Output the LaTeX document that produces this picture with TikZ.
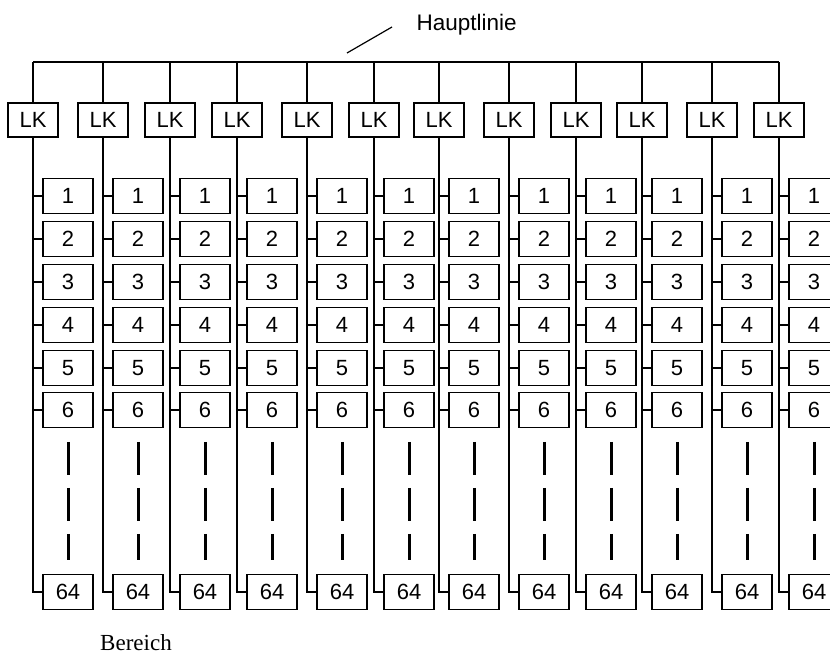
\documentclass[tikz,border=0pt]{standalone}
\usepackage{fontspec}
\setmainfont{Liberation Sans}
\newfontfamily\bereichfont{Liberation Serif}
\begin{document}
\begin{tikzpicture}[x=1pt, y=-1pt,
    lkbox/.style={draw, line width=1.5pt, minimum width=50pt, minimum height=34pt, inner sep=0pt, font=\fontsize{22}{24}\selectfont},
    numbox/.style={draw, line width=1.5pt, minimum width=50pt, minimum height=35pt, inner sep=0pt, font=\fontsize{22}{24}\selectfont},
    wire/.style={line width=1.2pt},
    gapline/.style={line width=3pt, dash pattern=on 33pt off 13pt}
]
\useasboundingbox (0,0) rectangle (830,655);
\clip (0,0) rectangle (830,655);

% Hauptlinie
\coordinate (hl-west) at (33,62);
\coordinate (hl-east) at (779,62);
\draw[wire] (hl-west) -- (hl-east);
\node[anchor=west, font=\fontsize{22.5}{24}\selectfont] (hauptlinie) at (413,25) {Hauptlinie};
\coordinate (lead-a) at (392,27);
\coordinate (lead-b) at (347,53);
\draw[wire] (lead-a) -- (lead-b);

% Linienkoppler mit Teilnehmern
\foreach \x [count=\i] in {33,103,170,237,307,374,439,509,576,642,712,779} {
    \node[lkbox] (lk\i) at (\x,120) {LK};
    \coordinate (top\i) at (\x,62);
    \draw[wire] (top\i) -- (lk\i);
    \foreach \n/\y in {1/196,2/239,3/282,4/325,5/368,6/410,64/592} {
        \node[numbox] (b\i-\n) at (\x+35,\y) {\n};
        \draw[wire] (lk\i.south) |- (b\i-\n.west);
    }
    \draw[gapline] ([yshift=-13.5pt]b\i-6.south) -- ([yshift=13.5pt]b\i-64.north);
}

\node[anchor=base, font=\bereichfont\fontsize{23}{26}\selectfont] (bereich) at (136,650) {Bereich};
\end{tikzpicture}
\end{document}
